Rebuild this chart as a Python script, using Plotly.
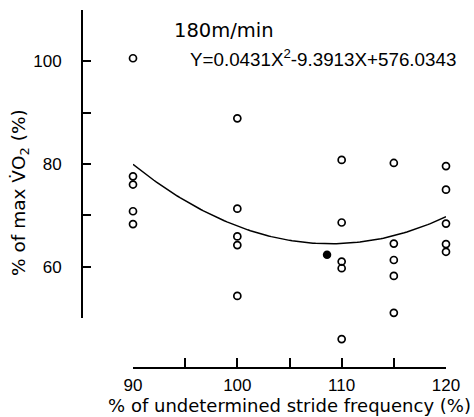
import numpy as np
import plotly.graph_objects as go

# Data
x_open = [90, 90, 90, 90, 90,
          100, 100, 100, 100, 100,
          110, 110, 110, 110, 110,
          115, 115, 115, 115, 115,
          120, 120, 120, 120, 120]
y_open = [100.6, 77.6, 76.0, 70.8, 68.3,
          88.9, 71.3, 65.9, 64.2, 54.3,
          80.8, 68.6, 61.0, 59.7, 45.9,
          80.2, 64.5, 61.3, 58.2, 51.0,
          79.6, 75.0, 68.4, 64.4, 62.9]
x_filled = [108.6]
y_filled = [62.3]

# Regression coefficients printed on the chart
coef_a, coef_b, coef_c = 0.0431, -9.3913, 576.0343
fit_x = np.linspace(90, 120, 121)
fit_y = coef_a * fit_x**2 + coef_b * fit_x + coef_c

x_ticks = [90, 95, 100, 105, 110, 115, 120]
x_ticktext = ["90", "", "100", "", "110", "", "120"]
y_ticks = [50, 60, 70, 80, 90, 100, 110]
y_ticktext = ["", "60", "", "80", "", "100", ""]

NUM_FONT = "Liberation Sans"
TXT_FONT = "DejaVu Sans"

W, H = 474, 417
L, R, T, B = 82, 28, 10, 50
pw, ph = W - L - R, H - T - B
y2_bottom_px = 318                      # pixel row of the y-axis' lower end
y2_lo = (H - B - y2_bottom_px) / ph     # domain start of the drawn y axis
y_lo_val = 110 - 60 / (1 - y2_lo)       # same scale extended to plot bottom

fig = go.Figure()
fig.add_trace(go.Scatter(x=fit_x, y=fit_y, mode="lines",
                         line=dict(color="black", width=1.5),
                         hoverinfo="skip", showlegend=False))
fig.add_trace(go.Scatter(x=x_open, y=y_open, mode="markers", cliponaxis=False,
                         marker=dict(symbol="circle-open", size=7, color="black",
                                     line=dict(width=1.7, color="black")),
                         showlegend=False))
fig.add_trace(go.Scatter(x=x_filled, y=y_filled, mode="markers", cliponaxis=False,
                         marker=dict(symbol="circle", size=8.5, color="black"),
                         showlegend=False))
# empty trace so that the drawn y axis (y2) gets its own subplot
fig.add_trace(go.Scatter(x=[], y=[], xaxis="x", yaxis="y2",
                         mode="markers", showlegend=False, hoverinfo="skip"))

fig.update_layout(
    width=W, height=H,
    margin=dict(l=L, r=R, t=T, b=B, autoexpand=False),
    plot_bgcolor="rgba(0,0,0,0)", paper_bgcolor="white",
    font=dict(family=TXT_FONT, size=16, color="black"),
    xaxis=dict(range=[90, 120], domain=[(133 - L) / pw, 1.0],
               anchor="y",
               showgrid=False, zeroline=False,
               showline=True, linecolor="black", linewidth=1.5,
               ticks="inside", ticklen=9, tickwidth=1.5, tickcolor="black",
               tickvals=x_ticks, ticktext=x_ticktext,
               tickfont=dict(family=NUM_FONT, size=17), ticklabelstandoff=2,
               title=dict(text="% of undetermined stride frequency (%)",
                          font=dict(family=TXT_FONT, size=18), standoff=2)),
    yaxis=dict(range=[y_lo_val, 110], domain=[0, 1], anchor="x",
               visible=False, showgrid=False, zeroline=False),
    yaxis2=dict(range=[50, 110], domain=[y2_lo, 1.0],
                anchor="free", position=0,
                showgrid=False, zeroline=False,
                showline=True, linecolor="black", linewidth=2,
                ticks="inside", ticklen=8, tickwidth=1.5, tickcolor="black",
                tickvals=y_ticks, ticktext=y_ticktext,
                tickfont=dict(family=NUM_FONT, size=17), ticklabelstandoff=16),
    annotations=[
        dict(text="% of max V̇O<sub>2</sub> (%)", xref="paper", yref="paper",
             x=(20 - L) / pw, y=(H - B - 193) / ph, textangle=-90,
             xanchor="center", yanchor="middle", showarrow=False,
             font=dict(family=TXT_FONT, size=18.5)),
        dict(text="180m/min", xref="paper", yref="paper",
             x=(172 - L) / pw, y=(H - B - 30) / ph,
             xanchor="left", yanchor="middle", showarrow=False,
             font=dict(family=TXT_FONT, size=19.5)),
        dict(text="Y=0.0431X<sup>2</sup>-9.3913X+576.0343", xref="paper", yref="paper",
             x=(188 - L) / pw, y=(H - B - 58) / ph,
             xanchor="left", yanchor="middle", showarrow=False,
             font=dict(family=NUM_FONT, size=18.8)),
    ],
)

fig.write_html("out.html", config={"displayModeBar": False},
               post_script="document.body.style.margin='0px';")
